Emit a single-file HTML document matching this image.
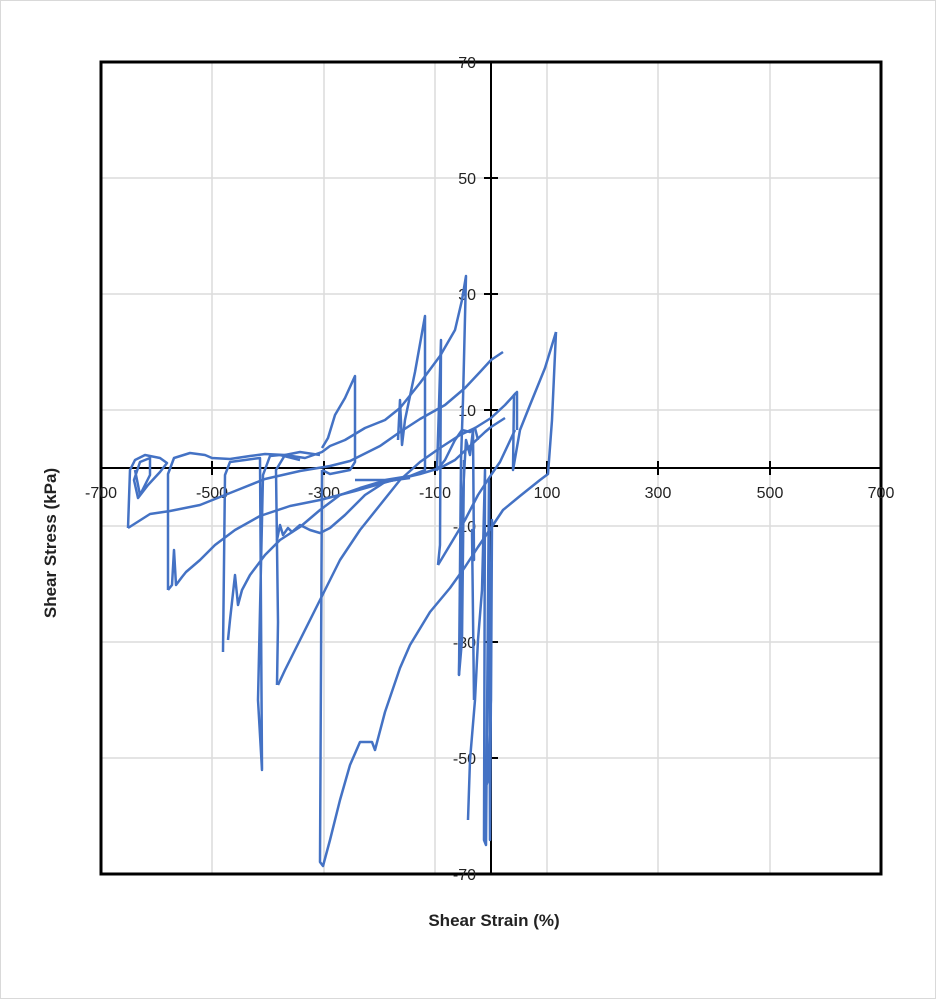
<!DOCTYPE html>
<html><head><meta charset="utf-8"><style>
html,body{margin:0;padding:0;background:#fff}
svg{display:block}
text{font-family:"Liberation Sans",sans-serif;font-size:16px;fill:#222}
</style></head><body>
<svg width="936" height="999" viewBox="0 0 936 999">
<rect x="0.5" y="0.5" width="935" height="998" fill="#fff" stroke="#d9d9d9"/>
<g stroke="#dcdcdc" stroke-width="1.5">
<line x1="212" y1="62" x2="212" y2="874"/><line x1="324" y1="62" x2="324" y2="874"/><line x1="435" y1="62" x2="435" y2="874"/>
<line x1="547" y1="62" x2="547" y2="874"/><line x1="658" y1="62" x2="658" y2="874"/><line x1="770" y1="62" x2="770" y2="874"/>
<line x1="101" y1="178" x2="881" y2="178"/><line x1="101" y1="294" x2="881" y2="294"/><line x1="101" y1="410" x2="881" y2="410"/>
<line x1="101" y1="526" x2="881" y2="526"/><line x1="101" y1="642" x2="881" y2="642"/><line x1="101" y1="758" x2="881" y2="758"/>
</g>
<rect x="101" y="62" width="780" height="812" fill="none" stroke="#000" stroke-width="3"/>
<line x1="491" y1="62" x2="491" y2="874" stroke="#000" stroke-width="2"/>
<line x1="101" y1="468" x2="881" y2="468" stroke="#000" stroke-width="2"/>
<g stroke="#000" stroke-width="2">
<line x1="484" y1="178" x2="498" y2="178"/><line x1="484" y1="294" x2="498" y2="294"/><line x1="484" y1="410" x2="498" y2="410"/>
<line x1="484" y1="526" x2="498" y2="526"/><line x1="484" y1="642" x2="498" y2="642"/><line x1="484" y1="758" x2="498" y2="758"/>
<line x1="212" y1="461" x2="212" y2="475"/><line x1="324" y1="461" x2="324" y2="475"/><line x1="435" y1="461" x2="435" y2="475"/>
<line x1="547" y1="461" x2="547" y2="475"/><line x1="658" y1="461" x2="658" y2="475"/><line x1="770" y1="461" x2="770" y2="475"/>
</g>
<g text-anchor="end">
<text x="476" y="68">70</text><text x="476" y="184">50</text><text x="476" y="300">30</text><text x="476" y="416">10</text>
<text x="476" y="532">-10</text><text x="476" y="648">-30</text><text x="476" y="764">-50</text><text x="476" y="880">-70</text>
</g>
<g text-anchor="middle">
<text x="101" y="498">-700</text><text x="212" y="498">-500</text><text x="324" y="498">-300</text><text x="435" y="498">-100</text>
<text x="547" y="498">100</text><text x="658" y="498">300</text><text x="770" y="498">500</text><text x="881" y="498">700</text>
</g>
<text x="494" y="926" text-anchor="middle" style="font-weight:bold;font-size:17px">Shear Strain (%)</text>
<text transform="translate(56,543) rotate(-90)" text-anchor="middle" style="font-weight:bold;font-size:17px">Shear Stress (kPa)</text>
<g fill="none" stroke="#4472C4" stroke-width="2.5" stroke-linejoin="round">
<polyline points="128,528 130,470 135,460 145,455 160,458 167,463 160,472 148,485 138,498 134,480 140,462 150,458 150,475 140,495 135,470"/>
<polyline points="128,528 150,514 170,511 200,505 235,491 265,479 300,471 330,466 350,461 380,446 400,432 420,419 445,405 465,388 480,372 491,360 503,352"/>
<polyline points="168,590 168,474 174,458 190,453 205,455 212,458 230,459 250,456 265,454 285,455 305,458 322,452 330,446 345,440 365,428 385,420 400,408 420,383 440,356 455,330 462,300 466,276 463,400 461,460 459,675 462,640 464,460"/>
<polyline points="168,590 172,585 174,550 176,585 182,577 186,572 200,560 215,545 235,530 260,516 290,506 320,500 355,491 390,481 420,474 440,468 455,460 470,446 485,432 491,427 505,418"/>
<polyline points="223,652 225,475 230,462 245,460 260,458 262,770 258,700 263,475 270,456 280,455 300,460"/>
<polyline points="228,640 230,620 235,575 238,605 242,590 250,575 265,555 280,540 300,527 320,510 340,495 360,488 380,482 410,478"/>
<polyline points="277,685 278,622 276,470 285,455 300,452 320,455"/>
<polyline points="277,540 280,525 283,535 288,528 292,532 300,525 310,530 320,533 330,528 345,515 365,495 385,482 410,477"/>
<polyline points="278,685 285,670 300,640 320,600 340,560 360,530 380,505 400,480 420,462 440,448 460,435 475,428 491,418 505,405 516,393"/>
<polyline points="322,470 320,862 323,866 330,840 340,800 350,765 360,742 372,742 375,750 385,712 400,668 410,645 430,612 450,588 465,567 478,547 491,528 503,510 520,496 540,480 548,474 552,420 556,332"/>
<polyline points="556,332 545,368 530,405 520,430 513,470 514,395 517,392 517,430"/>
<polyline points="322,448 328,438 335,415 345,398 355,376 355,462 350,470 330,474 322,470"/>
<polyline points="398,440 400,400 402,445 405,420 415,372 425,316 425,470 410,476 385,480 355,480"/>
<polyline points="438,565 440,545 441,340 437,470 445,460 455,440 462,430 470,432 475,428 478,440"/>
<polyline points="438,565 450,545 465,520 478,495 491,475 500,462 515,430"/>
<polyline points="459,675 462,510 466,440 470,455 473,430 474,560 472,530 474,700"/>
<polyline points="468,820 470,760 475,700 478,640 482,590 485,470 484,840 486,845 489,480 490,840 492,520 491,700 488,780 485,790"/>
</g>
</svg>
</body></html>
